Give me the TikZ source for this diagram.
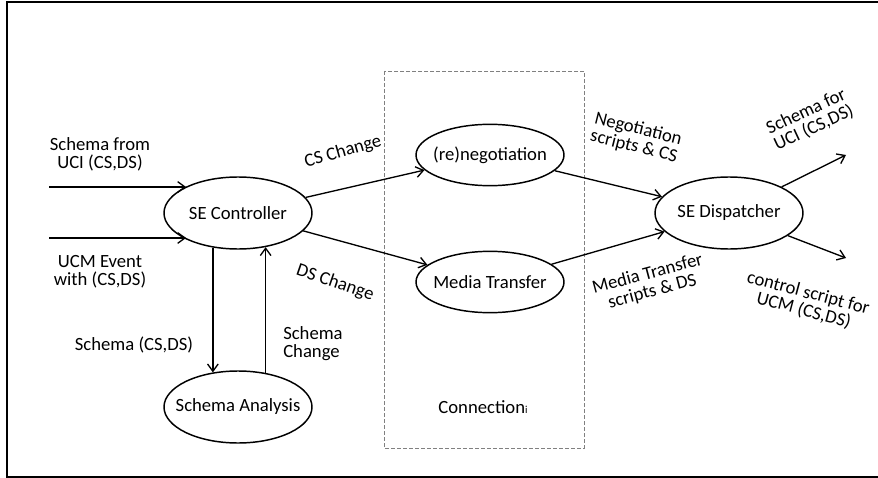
\documentclass[tikz,border=0pt]{standalone}
\usepackage{fontspec}
\setmainfont{Carlito}
\usetikzlibrary{positioning, shapes.geometric, arrows.meta}

\begin{document}
\begin{tikzpicture}[x=0.75pt, y=-0.75pt, >={Straight Barb[length=5.5pt,width=8pt]},
		fct/.style={ellipse, draw, line width=1.1pt, inner xsep=-25pt, inner ysep=-2pt, minimum width=111pt, minimum height=54pt, font=\fontsize{14}{13.5}\selectfont},
		flat/.style={fct, minimum height=46pt},
		lbl/.style={align=center, inner sep=0pt, font=\fontsize{14}{13.5}\selectfont},
		every edge/.append style={->, line width=1pt}]
		\useasboundingbox (0,0) rectangle (878,478);
		\draw[line width=1.5pt] (878,2) -- (7,2) -- (7,477) -- (878,477);

		% connection box
		\draw[gray, dash pattern=on 3pt off 1.5pt, line width=0.7pt] (384,71) rectangle (584,448);
		\node[lbl] (CX) at (483,407) {Connection{\footnotesize i}};

		\node[fct] (SC) at (238,213) {SE Controller};
		\node[fct] (SA) at (238,407) {Schema Analysis};
		\node[flat] (N) at (490,155) {(re)negotiation};
		\node[flat] (M) at (490,282) {Media Transfer};
		\node[fct] (SD) at (729,213) {SE Dispatcher};

		\coordinate (I0) at (49,187);
		\coordinate (I1) at (49,238);
		\coordinate (O0) at (846,155);
		\coordinate (O1) at (846,258);

		\path (I0) edge (I0 -| SC.153)
			(I1) edge (I1 -| SC.207);
		\path (SC) edge (N) edge (M);
		\path (SC.234) edge (SA.126)
			(SA.51) edge (SC.309);
		\path (N) edge (SD) (M) edge (SD);
		\path (SD) edge (O0) edge (O1);

		\node[lbl] (L0) at (100,154) {Schema from\\UCI (CS,DS)};
		\node[lbl] (L1) at (100,272) {UCM Event\\with (CS,DS)};
		\node[lbl] (L2) at (134,345) {Schema (CS,DS)};
		\node[lbl, align=left, anchor=west] (L3) at (283,344) {Schema\\Change};
		\node[lbl, rotate=16] (L4) at (343,152) {CS Change};
		\node[lbl, rotate=-19] (L5) at (335,283) {DS Change};
		\node[lbl, rotate=-14] (L6) at (636,138) {Negotiation\\scripts \& CS};
		\node[lbl, rotate=15] (L7) at (650,283) {Media Transfer\\scripts \& DS};
		\node[lbl, rotate=25] (L8) at (810,120) {Schema for\\UCI (CS,DS)};
		\node[lbl, rotate=-15] (L9) at (806,302) {control script for\\UCM (CS,DS)};
	\end{tikzpicture}
\end{document}
